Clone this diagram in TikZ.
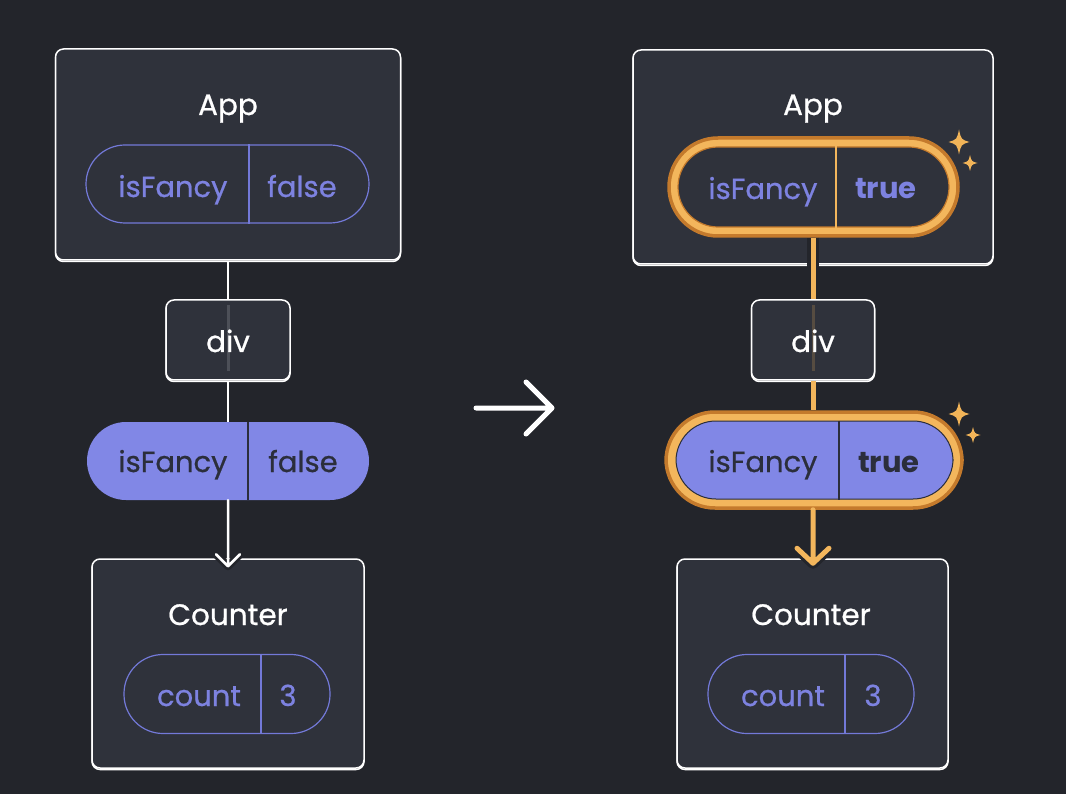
\documentclass[tikz,border=0pt]{standalone}
\usepackage{fontspec}
\setmainfont{Poppins}
\newfontfamily\medfont{Poppins}[FakeBold=0.7]
\usetikzlibrary{arrows.meta,calc}
\definecolor{bg}{HTML}{23252B}
\definecolor{boxfill}{HTML}{2F323B}
\definecolor{lavline}{HTML}{7379D8}
\definecolor{lavtext}{HTML}{7D82E0}
\definecolor{lavfill}{HTML}{8187E6}
\definecolor{darktext}{HTML}{2B2E3B}
\definecolor{orlight}{HTML}{F3B65C}
\definecolor{ordark}{HTML}{C47A2C}
\definecolor{spark}{HTML}{F2B458}
\newcommand{\sparkle}[4]{%
  \fill[spark, shift={(#1,#2)}, xscale=#3, yscale=#4]
    (0,-1) .. controls (0.2,-0.2) .. (1,0)
           .. controls (0.2,0.2) .. (0,1)
           .. controls (-0.2,0.2) .. (-1,0)
           .. controls (-0.2,-0.2) .. (0,-1) -- cycle;}
\begin{document}
\begin{tikzpicture}[x=1pt,y=-1pt,
  box/.style={draw=white, line width=1.5pt, fill=boxfill, rounded corners=8pt, inner sep=0pt,
    preaction={draw=white, line width=1.5pt, transform canvas={yshift=-1.5pt}}},
  pill/.style={draw=lavline, line width=1.2pt, rounded corners=39pt, inner sep=0pt},
  fpill/.style={fill=lavfill, rounded corners=39pt, inner sep=0pt},
  ringout/.style={fill=orlight, draw=ordark, line width=3.5pt, rounded corners=49pt, inner sep=0pt},
  ringin/.style={draw=ordark, line width=1.2pt, rounded corners=40pt, inner sep=0pt},
  title/.style={text=white, font=\medfont\fontsize{29.5}{34}\selectfont, anchor=base, inner sep=0pt},
  ltext/.style={text=lavtext, font=\medfont\fontsize{29}{34}\selectfont, anchor=base, inner sep=0pt},
  dtext/.style={text=darktext, font=\medfont\fontsize{29}{34}\selectfont, anchor=base, inner sep=0pt},
  btext/.style={font=\fontsize{29}{34}\selectfont\bfseries, anchor=base, inner sep=0pt},
  divline/.style={lavline, line width=1.2pt},
  conn/.style={white, line width=2.5pt},
  oconn/.style={orlight, line width=5pt},
  halo/.style={bg, line width=12pt},
]
\fill[bg] (0,0) rectangle (1066,794);
\useasboundingbox (0,0) rectangle (1066,794);

% ================= LEFT =================
\node[box, minimum width=345pt, minimum height=211pt] (appL) at (228,154.5) {};
\node[title] (appLt) at (228,115) {App};
\node[pill, minimum width=283pt, minimum height=78pt] (pL1) at (227.5,184) {};
\coordinate (dL1) at (249,184);
\draw[divline] (dL1 |- pL1.north) -- (dL1 |- pL1.south);
\node[ltext] (pL1a) at (173,197) {isFancy};
\node[ltext] (pL1b) at (302,197) {false};

\node[box, minimum width=124pt, minimum height=80pt] (divL) at (228,340) {};
\draw[white, opacity=0.15, line width=3pt] ($(divL.north)+(0,6)$) -- ($(divL.south)+(0,-10)$);
\node[title] (divLt) at (228,352) {div};

\node[fpill, minimum width=282pt, minimum height=78pt] (pL2) at (228,461) {};
\coordinate (dL2) at (248,461);
\draw[darktext, line width=1.2pt] (dL2 |- pL2.north) -- (dL2 |- pL2.south);
\node[dtext] (pL2a) at (173,472) {isFancy};
\node[dtext] (pL2b) at (303,472) {false};

\node[box, minimum width=272pt, minimum height=209pt] (cntL) at (228,663.5) {};
\node[title] (cntLt) at (228,625) {Counter};
\node[pill, minimum width=206pt, minimum height=79pt] (pL3) at (227,694) {};
\coordinate (dL3) at (261,694);
\draw[divline] (dL3 |- pL3.north) -- (dL3 |- pL3.south);
\node[ltext] (pL3a) at (199,706) {count};
\node[ltext] (pL3b) at (288,706) {3};

\draw[conn] (appL.south) -- (divL.north);
\draw[conn] (divL.south) -- (pL2.north);
\draw[bg, line width=8pt, line cap=round, line join=round]
  ($(cntL.north)+(-12,-4)$) -- ($(cntL.north)+(0,8)$) -- ($(cntL.north)+(12,-4)$);
\draw[conn, line cap=round, line join=round] (pL2.south) -- ($(cntL.north)+(0,8)$)
  ($(cntL.north)+(-12,-4)$) -- ($(cntL.north)+(0,8)$) -- ($(cntL.north)+(12,-4)$);

% ================= MIDDLE ARROW =================
\coordinate (m1) at (476,408);
\coordinate (m2) at (552,408);
\coordinate (m3) at (526,382);
\coordinate (m4) at (526,434);
\draw[white, line width=5pt, line cap=round, line join=round] (m1) -- (m2) (m3) -- (m2) -- (m4);

% ================= RIGHT =================
\node[box, minimum width=360pt, minimum height=214pt] (appR) at (813,157) {};
\node[title] (appRt) at (813,115) {App};
\node[ringout, minimum width=289pt, minimum height=98pt] (rR1) at (813.5,187) {};
\node[ringin, fill=boxfill, minimum width=271pt, minimum height=80pt] (pR1) at (813.5,187) {};
\coordinate (dR1) at (836,187);
\draw[orlight, line width=1.5pt] (dR1 |- pR1.north) -- (dR1 |- pR1.south);
\node[ltext] (pR1a) at (763,199) {isFancy};
\node[btext, text=lavtext] (pR1b) at (886,199) {true};
\sparkle{959}{142}{10.5}{12.5}
\sparkle{970}{163}{7.5}{8}

\node[box, minimum width=123pt, minimum height=80pt] (divR) at (813,340) {};
\draw[orlight, opacity=0.2, line width=3pt] ($(divR.north)+(0,6)$) -- ($(divR.south)+(0,-10)$);
\node[title] (divRt) at (813,352) {div};

\node[ringout, minimum width=296pt, minimum height=96pt] (rR2) at (814,460) {};
\node[ringin, fill=lavfill, draw=darktext, line width=1pt, minimum width=277pt, minimum height=78pt] (pR2) at (814.5,460) {};
\coordinate (dR2) at (839,460);
\draw[darktext, line width=1.2pt] (dR2 |- pR2.north) -- (dR2 |- pR2.south);
\node[dtext] (pR2a) at (763,472) {isFancy};
\node[btext, text=darktext] (pR2b) at (889,472) {true};
\sparkle{959}{414}{10.5}{12.5}
\sparkle{973}{435}{7.5}{8}

\node[box, minimum width=271pt, minimum height=209pt] (cntR) at (812.5,663.5) {};
\node[title] (cntRt) at (811,625) {Counter};
\node[pill, minimum width=206pt, minimum height=79pt] (pR3) at (811,694) {};
\coordinate (dR3) at (845,694);
\draw[divline] (dR3 |- pR3.north) -- (dR3 |- pR3.south);
\node[ltext] (pR3a) at (783,706) {count};
\node[ltext] (pR3b) at (873,706) {3};

% orange connectors
\coordinate (oR1) at (813,0);
\draw[halo] (oR1 |- rR1.south) -- ($(oR1 |- appR.south)+(0,2)$);
\draw[oconn] (oR1 |- rR1.south) -- (oR1 |- divR.north);
\draw[oconn] (oR1 |- divR.south) -- (oR1 |- rR2.north);
\draw[bg, line width=11pt, line cap=round, line join=round]
  ($(oR1 |- cntR.north)+(-16,-10)$) -- ($(oR1 |- cntR.north)+(0,5)$) -- ($(oR1 |- cntR.north)+(16,-10)$);
\draw[oconn, line cap=round, line join=round] (oR1 |- rR2.south) -- ($(oR1 |- cntR.north)+(0,5)$)
  ($(oR1 |- cntR.north)+(-16,-10)$) -- ($(oR1 |- cntR.north)+(0,5)$) -- ($(oR1 |- cntR.north)+(16,-10)$);
\end{tikzpicture}
\end{document}
